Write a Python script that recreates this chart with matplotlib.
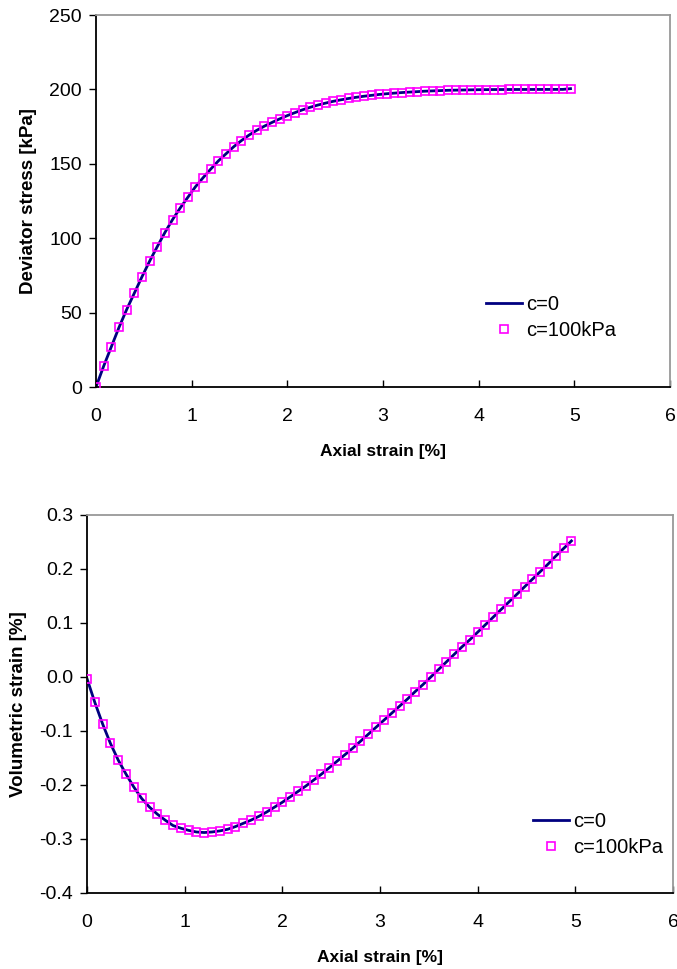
import matplotlib
matplotlib.use("Agg")
import matplotlib.pyplot as plt
from matplotlib.ticker import FormatStrFormatter

plt.rcParams['font.family'] = ['Liberation Sans', 'DejaVu Sans']
plt.rcParams['axes.unicode_minus'] = False

# axial strain [%] (step 0.08)
strain = [0.00, 0.08, 0.16, 0.24, 0.32, 0.40, 0.48, 0.56, 0.64, 0.72,
          0.80, 0.88, 0.96, 1.04, 1.12, 1.20, 1.28, 1.36, 1.44, 1.52,
          1.60, 1.68, 1.76, 1.84, 1.92, 2.00, 2.08, 2.16, 2.24, 2.32,
          2.40, 2.48, 2.56, 2.64, 2.72, 2.80, 2.88, 2.96, 3.04, 3.12,
          3.20, 3.28, 3.36, 3.44, 3.52, 3.60, 3.68, 3.76, 3.84, 3.92,
          4.00, 4.08, 4.16, 4.24, 4.32, 4.40, 4.48, 4.56, 4.64, 4.72,
          4.80, 4.88, 4.96]

# deviator stress [kPa]
q = [0, 14, 27, 40, 52, 63, 74, 84.5, 94.3, 103.8,
     112.5, 120.3, 127.5, 134.6, 140.7, 146.5, 152, 156.8, 161.5, 165.6,
     169.3, 172.5, 175.3, 177.8, 180.2, 182.4, 184.4, 186.3, 188, 189.5,
     190.8, 192, 193, 193.9, 194.7, 195.4, 196, 196.6, 197.1, 197.5,
     197.9, 198.2, 198.5, 198.8, 199, 199.2, 199.4, 199.5, 199.6, 199.7,
     199.8, 199.85, 199.9, 199.92, 199.94, 199.95, 199.96, 199.97, 199.98, 199.99,
     200, 200, 200.5]

# volumetric strain [%]
ev = [-0.003, -0.047, -0.087, -0.123, -0.154, -0.180, -0.204, -0.225, -0.241, -0.254,
      -0.265, -0.275, -0.280, -0.284, -0.287, -0.288, -0.287, -0.285, -0.282, -0.277,
      -0.271, -0.265, -0.258, -0.250, -0.241, -0.232, -0.222, -0.212, -0.202, -0.191,
      -0.180, -0.168, -0.156, -0.144, -0.132, -0.119, -0.106, -0.093, -0.080, -0.067,
      -0.054, -0.041, -0.027, -0.014, 0.000, 0.014, 0.028, 0.042, 0.056, 0.069,
      0.083, 0.097, 0.111, 0.125, 0.139, 0.153, 0.167, 0.181, 0.195, 0.209,
      0.224, 0.238, 0.252]

labels = ['c=0', 'c=100kPa']

fig = plt.figure(figsize=(6.77, 9.69), dpi=100)
ax1 = fig.add_axes([96/677, 1-387/969, 574/677, 372/969])
ax2 = fig.add_axes([87/677, 1-893/969, 586/677, 378/969])


def style(ax):
    for s in ['left', 'bottom']:
        ax.spines[s].set_color('black')
        ax.spines[s].set_linewidth(1.3)
    for s in ['top', 'right']:
        ax.spines[s].set_color('#999999')
        ax.spines[s].set_linewidth(1.3)
    ax.tick_params(axis='x', direction='in', length=5, width=1, labelsize=14, pad=15)
    ax.tick_params(axis='y', direction='out', length=5, width=1, labelsize=14, pad=5)
    ax.set_xlim(0, 6)
    ax.set_xticks(range(7))
    ax.set_xlabel('Axial strain [%]', fontsize=12.5, fontweight='bold', labelpad=14)


ax1.plot(strain, q, color='#000080', lw=2, label=labels[0], zorder=2)
ax1.plot(strain, q, ls='none', marker='s', ms=5.4, mfc='none', mec='#FF00FF',
         mew=1.2, label=labels[1], zorder=3)
style(ax1)
ax1.set_ylim(0, 250)
ax1.set_yticks([0, 50, 100, 150, 200, 250])
ax1.set_ylabel('Deviator stress [kPa]', fontsize=13.5, fontweight='bold', labelpad=9)
ax1.legend(loc='center left', bbox_to_anchor=(0.679, 0.187), frameon=False,
           fontsize=14.5, handlelength=1.8, handletextpad=0.2, labelspacing=0.35,
           borderpad=0, borderaxespad=0)

ax2.plot(strain, ev, color='#000080', lw=2, label=labels[0], zorder=2)
ax2.plot(strain, ev, ls='none', marker='s', ms=5.4, mfc='none', mec='#FF00FF',
         mew=1.2, label=labels[1], zorder=3)
style(ax2)
ax2.set_ylim(-0.4, 0.3)
ax2.set_yticks([-0.4, -0.3, -0.2, -0.1, 0.0, 0.1, 0.2, 0.3])
ax2.yaxis.set_major_formatter(FormatStrFormatter('%.1f'))
ax2.set_ylabel('Volumetric strain [%]', fontsize=13.5, fontweight='bold', labelpad=9)
ax2.legend(loc='center left', bbox_to_anchor=(0.761, 0.155), frameon=False,
           fontsize=14.5, handlelength=1.8, handletextpad=0.2, labelspacing=0.35,
           borderpad=0, borderaxespad=0)

fig.savefig('out.png', dpi=100)
